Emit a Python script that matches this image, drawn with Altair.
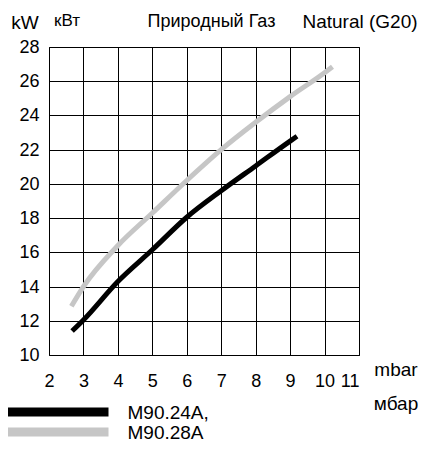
import altair as alt
import pandas as pd

# ---- data ----
series_names = ["M90.24A,", "M90.28A"]
series_colors = ["#000000", "#c6c6c6"]

pressure_a = [2.67, 3, 4, 5, 6, 7, 8, 9, 9.2]
power_a = [11.4, 12.05, 14.3, 16.15, 18.05, 19.6, 21.05, 22.5, 22.78]

pressure_b = [2.65, 3, 4, 5, 6, 7, 8, 9, 10, 10.23]
power_b = [12.85, 14.0, 16.4, 18.3, 20.2, 22.0, 23.6, 25.1, 26.5, 26.85]

x_ticks = [2, 3, 4, 5, 6, 7, 8, 9, 10, 11]
y_ticks = [10, 12, 14, 16, 18, 20, 22, 24, 26, 28]

title_left = ["kW", "кВт"]
title_mid = "Природный Газ"
title_right = "Natural (G20)"
x_units = ["mbar", "мбар"]

FONT = "Liberation Sans, Arial, Helvetica, sans-serif"

df = pd.concat([
    pd.DataFrame({"p": pressure_a, "kw": power_a, "s": series_names[0], "o": range(len(pressure_a))}),
    pd.DataFrame({"p": pressure_b, "kw": power_b, "s": series_names[1], "o": range(len(pressure_b))}),
])

color_scale = alt.Scale(domain=series_names, range=series_colors)

lines = alt.Chart(df).mark_line(strokeWidth=5, interpolate="monotone", strokeCap="butt").encode(
    x=alt.X("p:Q", scale=alt.Scale(domain=[2, 11], nice=False, zero=False),
            axis=alt.Axis(values=x_ticks, title=None, labelPadding=17,
                          labelAlign={"condition": {"test": "datum.value === 11", "value": "right"},
                                      "value": "center"})),
    y=alt.Y("kw:Q", scale=alt.Scale(domain=[10, 28], nice=False, zero=False),
            axis=alt.Axis(values=y_ticks, title=None, labelPadding=10, labelOffset=0.5)),
    color=alt.Color("s:N", scale=color_scale, legend=None),
    order="o:Q",
)


def label(txt, x, y, size, align="center"):
    return alt.Chart(pd.DataFrame({"t": [txt]})).mark_text(
        align=align, baseline="alphabetic", fontSize=size, font=FONT, color="#000"
    ).encode(x=alt.value(x), y=alt.value(y), text="t:N")


def swatch(name, y):
    return alt.Chart(pd.DataFrame({"s": [name]})).mark_rule(strokeWidth=9, strokeCap="butt").encode(
        x=alt.value(-46.5), x2=alt.value(59.5), y=alt.value(y),
        color=alt.Color("s:N", scale=color_scale, legend=None),
    )


texts = [
    label(title_left[0], -24, -18.3, 19),
    label(title_left[1], 18, -21.3, 17),
    label(title_mid, 162.5, -20.3, 18),
    label(title_right, 311, -19.3, 19),
    label(x_units[0], 347, 328.7, 19),
    label(x_units[1], 347, 362.7, 19),
    label(series_names[0], 78.5, 372, 19, "left"),
    label(series_names[1], 78.5, 392, 19, "left"),
]

chart = alt.layer(
    lines,
    swatch(series_names[0], 365),
    swatch(series_names[1], 385),
    *texts,
).properties(
    width=310, height=308,
    autosize=alt.AutoSizeParams(type="none"),
    padding={"left": 41, "top": 39, "right": 60, "bottom": 89},
).configure_axis(
    labelFont=FONT, labelFontSize=18, labelColor="#000",
    domain=False, ticks=False, grid=True, gridColor="#000", gridOpacity=1, gridWidth=1,
).configure_view(
    stroke="#000", strokeWidth=1,
)

chart.save("out.html", embed_options={"renderer": "svg", "actions": False})
